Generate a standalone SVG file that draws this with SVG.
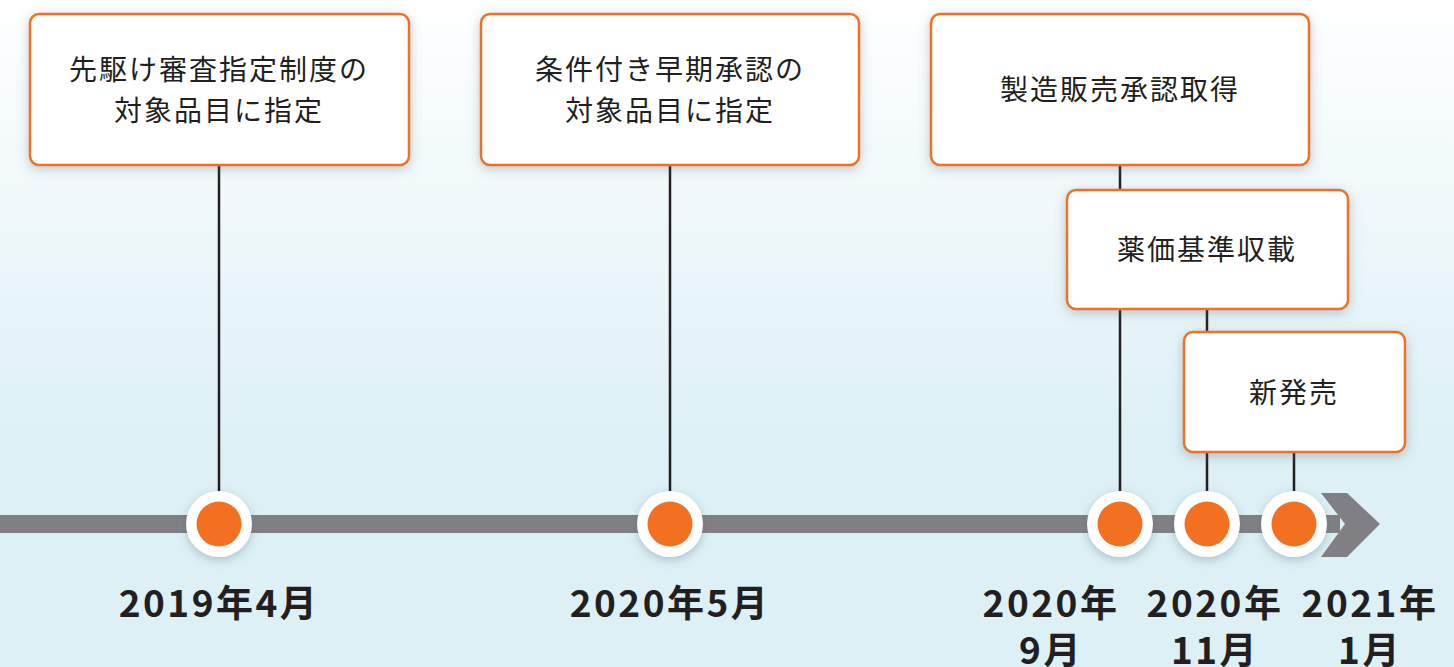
<svg xmlns="http://www.w3.org/2000/svg" width="1454" height="667" viewBox="0 0 1454 667">
<defs>
<linearGradient id="bg" x1="0" y1="0" x2="0" y2="1">
<stop offset="0" stop-color="#ffffff"/>
<stop offset="0.68" stop-color="#dcf0f5"/>
<stop offset="1" stop-color="#dcf0f5"/>
</linearGradient>
<filter id="sh" x="-20%" y="-30%" width="140%" height="160%">
<feDropShadow dx="0" dy="3" stdDeviation="6" flood-color="#5a6a70" flood-opacity="0.35"/>
</filter>
<filter id="csh" x="-50%" y="-50%" width="200%" height="200%">
<feDropShadow dx="0" dy="3" stdDeviation="5" flood-color="#4a6a74" flood-opacity="0.35"/>
</filter>
<style>
.box{fill:#ffffff;stroke:#f07025;stroke-width:2.5;filter:url(#sh)}
.bt{font-family:"Noto Sans CJK JP","Noto Sans",sans-serif;font-size:28px;fill:#231f20;text-anchor:middle;letter-spacing:2px}
.dt{font-family:"Noto Sans CJK JP","Noto Sans",sans-serif;font-size:37px;font-weight:bold;fill:#231f20;text-anchor:middle;letter-spacing:2.5px}
.ln{stroke:#231f20;stroke-width:2.5;fill:none}
.outer{fill:#ffffff;filter:url(#csh)}
.inner{fill:#f37021}
</style>
</defs>
<rect x="0" y="0" width="1454" height="667" fill="url(#bg)"/>
<g id="connectors">
<line class="ln" x1="219" y1="165" x2="219" y2="500"/>
<line class="ln" x1="670" y1="165" x2="670" y2="500"/>
<line class="ln" x1="1120" y1="165" x2="1120" y2="500"/>
<line class="ln" x1="1207" y1="309" x2="1207" y2="500"/>
<line class="ln" x1="1294" y1="452" x2="1294" y2="500"/>
</g>
<g id="timeline">
<rect x="0" y="515" width="1340" height="18" fill="#808084"/>
<polygon points="1321,493 1347,493 1380,524 1347,557 1321,557 1345,524" fill="#808084"/>
</g>
<g id="node-1">
<rect class="box" x="30" y="14" width="379" height="151" rx="9"/>
<text class="bt" x="219" y="80">先駆け審査指定制度の</text>
<text class="bt" x="219" y="121">対象品目に指定</text>
</g>
<g id="node-2">
<rect class="box" x="481" y="14" width="378" height="151" rx="9"/>
<text class="bt" x="670" y="80">条件付き早期承認の</text>
<text class="bt" x="670" y="121">対象品目に指定</text>
</g>
<g id="node-3">
<rect class="box" x="931" y="14" width="378" height="151" rx="9"/>
<text class="bt" x="1120" y="100">製造販売承認取得</text>
</g>
<g id="node-4">
<rect class="box" x="1067" y="190" width="281" height="119" rx="9"/>
<text class="bt" x="1207" y="260">薬価基準収載</text>
</g>
<g id="node-5">
<rect class="box" x="1184" y="332" width="221" height="120" rx="9"/>
<text class="bt" x="1294" y="403">新発売</text>
</g>
<g id="point-1">
<circle class="outer" cx="219" cy="524" r="33"/>
<circle class="inner" cx="219" cy="524" r="22.5"/>
<text class="dt" x="219" y="617">2019年4月</text>
</g>
<g id="point-2">
<circle class="outer" cx="670" cy="524" r="33"/>
<circle class="inner" cx="670" cy="524" r="22.5"/>
<text class="dt" x="670" y="617">2020年5月</text>
</g>
<g id="point-3">
<circle class="outer" cx="1120" cy="524" r="33"/>
<circle class="inner" cx="1120" cy="524" r="22.5"/>
<text class="dt" x="1051" y="617">2020年</text>
<text class="dt" x="1051" y="664">9月</text>
</g>
<g id="point-4">
<circle class="outer" cx="1207" cy="524" r="33"/>
<circle class="inner" cx="1207" cy="524" r="22.5"/>
<text class="dt" x="1215" y="617">2020年</text>
<text class="dt" x="1215" y="664">11月</text>
</g>
<g id="point-5">
<circle class="outer" cx="1294" cy="524" r="33"/>
<circle class="inner" cx="1294" cy="524" r="22.5"/>
<text class="dt" x="1370" y="617">2021年</text>
<text class="dt" x="1370" y="664">1月</text>
</g>
</svg>
